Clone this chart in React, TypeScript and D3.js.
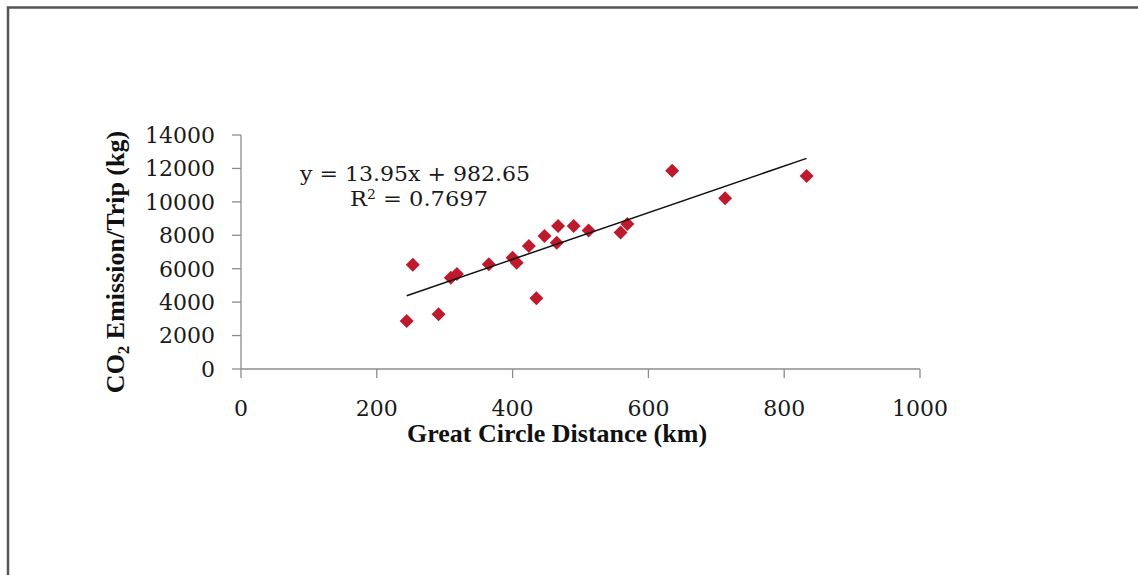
import React from "react";
import * as d3 from "d3";

const distanceKm = [244, 253, 291, 309, 318, 365, 400, 406, 435, 424, 447, 465, 467, 490, 512, 559, 569, 635, 713, 833];
const co2Kg = [2870, 6240, 3270, 5460, 5680, 6260, 6660, 6360, 4230, 7360, 7960, 7560, 8560, 8560, 8280, 8160, 8680, 11860, 10210, 11550];
const xTicks = [0, 200, 400, 600, 800, 1000];
const yTicks = [0, 2000, 4000, 6000, 8000, 10000, 12000, 14000];
const slope = 13.95;
const intercept = 982.65;
const rSquared = "0.7697";

const W = 1138;
const H = 575;

export default function App() {
  const x = d3.scaleLinear().domain([0, 1000]).range([241, 920]);
  const y = d3.scaleLinear().domain([0, 14000]).range([369, 135]);
  const xMin = d3.min(distanceKm) as number;
  const xMax = d3.max(distanceKm) as number;
  const trend = d3
    .line<number>()
    .x((d) => x(d))
    .y((d) => y(slope * d + intercept))([xMin, xMax]);
  const diamond = d3.symbol().type(d3.symbolDiamond2).size(125)();
  const axisColor = "#8c8c8c";
  const serif = "'DejaVu Serif', serif";
  const titleFont = "'Liberation Serif', serif";

  return (
    <svg
      width={W}
      height={H}
      style={{ position: "absolute", left: 0, top: 0, background: "#fff" }}
    >
      <rect x={0} y={0} width={W} height={H} fill="#fff" />
      {/* outer frame */}
      <rect x={8} y={7.5} width={W + 40} height={H + 40} fill="none" stroke="#555" strokeWidth={2.5} />

      {/* y axis */}
      <line x1={x(0)} x2={x(0)} y1={y(0)} y2={y(14000)} stroke={axisColor} strokeWidth={1.3} />
      {yTicks.map((t) => (
        <g key={"y" + t}>
          <line x1={x(0) - 9} x2={x(0)} y1={y(t)} y2={y(t)} stroke={axisColor} strokeWidth={1.3} />
          <text
            x={215}
            y={y(t)}
            dy="0.36em"
            textAnchor="end"
            fontFamily={serif}
            fontSize={22}
            fill="#1a1a1a"
          >
            {t}
          </text>
        </g>
      ))}

      {/* x axis */}
      <line x1={x(0)} x2={x(1000)} y1={y(0)} y2={y(0)} stroke={axisColor} strokeWidth={1.3} />
      {xTicks.map((t) => (
        <g key={"x" + t}>
          <line x1={x(t)} x2={x(t)} y1={y(0)} y2={y(0) + 9} stroke={axisColor} strokeWidth={1.3} />
          <text
            x={x(t)}
            y={416}
            textAnchor="middle"
            fontFamily={serif}
            fontSize={22}
            fill="#1a1a1a"
          >
            {t}
          </text>
        </g>
      ))}

      {/* points */}
      {distanceKm.map((d, i) => (
        <path
          key={"p" + i}
          d={diamond as string}
          transform={`translate(${x(d)},${y(co2Kg[i])})`}
          fill="#be1a2e"
        />
      ))}

      {/* trend line */}
      <path d={trend as string} fill="none" stroke="#111" strokeWidth={1.5} />

      {/* equation */}
      <text x={415} y={181} textAnchor="middle" fontFamily={serif} fontSize={21} fill="#1a1a1a" textLength={230} lengthAdjust="spacingAndGlyphs">
        {`y = ${slope}x + ${intercept}`}
      </text>
      <text x={419} y={206} textAnchor="middle" fontFamily={serif} fontSize={21} fill="#1a1a1a" textLength={138} lengthAdjust="spacingAndGlyphs">
        R<tspan dy={-7} fontSize={13}>2</tspan>
        <tspan dy={7}>{` = ${rSquared}`}</tspan>
      </text>

      {/* axis titles */}
      <text
        x={557}
        y={442}
        textAnchor="middle"
        fontFamily={titleFont}
        fontWeight="bold"
        fontSize={26}
        fill="#111"
      >
        Great Circle Distance (km)
      </text>
      <text
        transform="translate(124,262) rotate(-90)"
        textAnchor="middle"
        fontFamily={titleFont}
        fontWeight="bold"
        fontSize={26}
        fill="#111"
      >
        CO<tspan dy={5} fontSize={17}>2</tspan>
        <tspan dy={-5}> Emission/Trip (kg)</tspan>
      </text>
    </svg>
  );
}
